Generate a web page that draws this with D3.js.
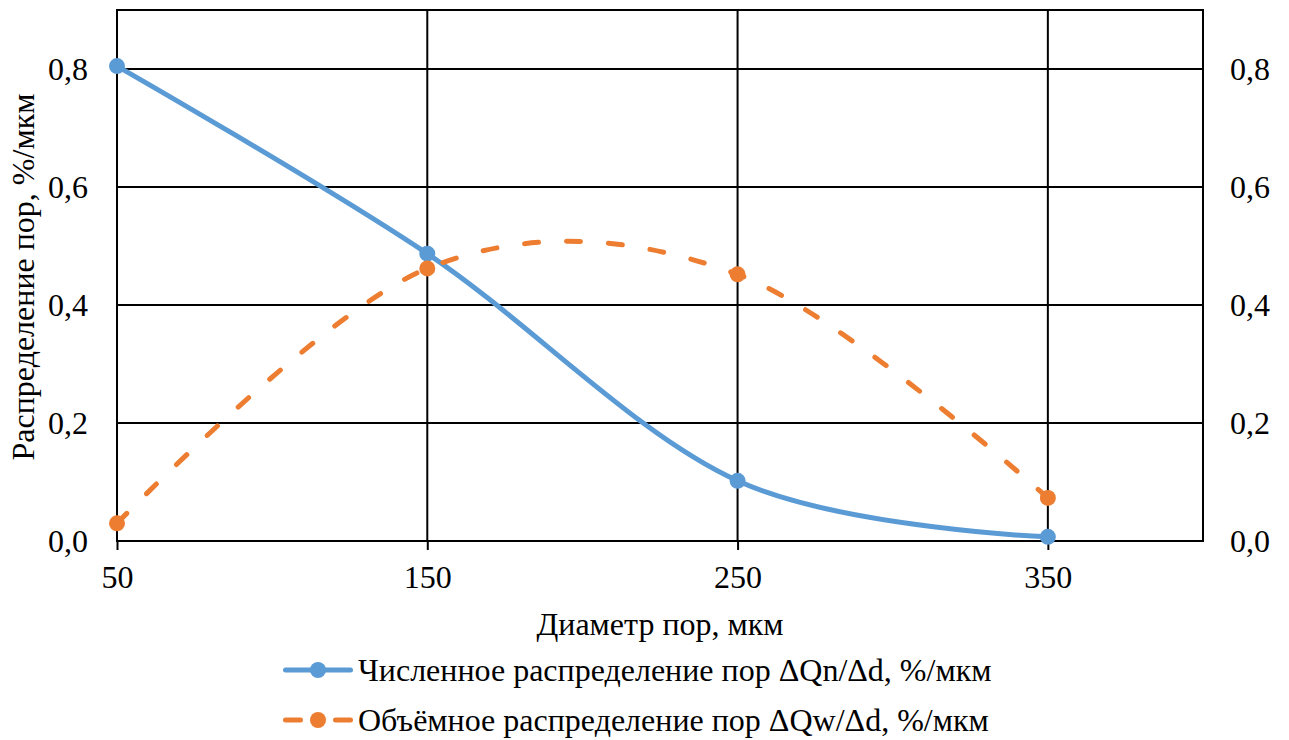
<!DOCTYPE html>
<html><head><meta charset="utf-8">
<script src="https://cdn.jsdelivr.net/npm/d3@7"></script>
</head><body style="margin:0;background:#fff"><svg id="c" width="1289" height="740" style="display:block"></svg>
<script>
const diameters = [50, 150, 250, 350];
const numberDist = [0.805, 0.487, 0.102, 0.007];
const volumeDist = [0.030, 0.462, 0.452, 0.073];
const xTicks = [50, 150, 250, 350];
const yTicks = [0, 0.2, 0.4, 0.6, 0.8];
const seriesNames = ["Численное распределение пор ΔQn/Δd, %/мкм", "Объёмное распределение пор ΔQw/Δd, %/мкм"];
const xTitle = "Диаметр пор, мкм";
const yTitle = "Распределение пор, %/мкм";

const FS = 32;
const svg = d3.select("#c");
const L = 117, R = 1203, T = 10, B = 541;
const x = d3.scaleLinear().domain([50, 400]).range([L, R]);
const y = d3.scaleLinear().domain([0, 0.9]).range([B, T]);
const fmt = v => d3.format(".1f")(v).replace(".", ",");

svg.append("g").selectAll("line").data(yTicks.filter(d => d > 0)).join("line")
  .attr("x1", L).attr("x2", R).attr("y1", d => y(d)).attr("y2", d => y(d))
  .attr("stroke", "#000").attr("stroke-width", 2);
svg.append("g").selectAll("line").data(xTicks.filter(d => d > 50)).join("line")
  .attr("x1", d => x(d)).attr("x2", d => x(d)).attr("y1", T).attr("y2", B)
  .attr("stroke", "#000").attr("stroke-width", 2);
svg.append("rect").attr("x", L).attr("y", T).attr("width", R - L).attr("height", B - T)
  .attr("fill", "none").attr("stroke", "#000").attr("stroke-width", 2);

function styleText(sel) { sel.style("font-family", "'Liberation Serif'").attr("font-size", FS).attr("fill", "#000"); return sel; }

const xAxis = svg.append("g").attr("transform", `translate(0,${B})`)
  .call(d3.axisBottom(x).tickValues(xTicks).tickSize(9).tickPadding(16).tickFormat(d3.format("d")));
xAxis.select(".domain").remove();
xAxis.selectAll("line").attr("stroke", "#000").attr("stroke-width", 2);
xAxis.attr("font-family", null).attr("font-size", null);
styleText(xAxis.selectAll("text")).attr("y", 47).attr("dy", null);

const yl = svg.append("g").attr("transform", `translate(${L},0)`)
  .call(d3.axisLeft(y).tickValues(yTicks).tickSize(0).tickPadding(29).tickFormat(fmt));
yl.select(".domain").remove();
yl.attr("font-family", null).attr("font-size", null);
styleText(yl.selectAll("text"));
const yr = svg.append("g").attr("transform", `translate(${R},0)`)
  .call(d3.axisRight(y).tickValues(yTicks).tickSize(0).tickPadding(27).tickFormat(fmt));
yr.select(".domain").remove();
yr.attr("font-family", null).attr("font-size", null);
styleText(yr.selectAll("text"));

styleText(svg.append("text").attr("x", 660).attr("y", 635).attr("text-anchor", "middle").text(xTitle));
styleText(svg.append("text").attr("transform", `translate(34,277) rotate(-90)`)
  .attr("text-anchor", "middle").text(yTitle));

const line = d3.line().x(d => x(d[0])).y(d => y(d[1])).curve(d3.curveCatmullRom.alpha(0));
const colors = ["#5B9BD5", "#ED7D31"];
const data = [numberDist, volumeDist].map(s => diameters.map((d, i) => [d, s[i]]));

data.forEach((pts, i) => {
  svg.append("path").datum(pts).attr("d", line).attr("fill", "none")
    .attr("stroke", colors[i]).attr("stroke-width", 5)
    .attr("stroke-linecap", "round").attr("stroke-linejoin", "round")
    .attr("stroke-dasharray", i === 1 ? "14,28" : null);
  svg.append("g").selectAll("circle").data(pts).join("circle")
    .attr("cx", d => x(d[0])).attr("cy", d => y(d[1])).attr("r", 8).attr("fill", colors[i]);
});

const lg = svg.append("g");
[670, 720].forEach((ly, i) => {
  lg.append("line").attr("x1", 285.5).attr("x2", 350.5).attr("y1", ly).attr("y2", ly)
    .attr("stroke", colors[i]).attr("stroke-width", 5).attr("stroke-linecap", "round")
    .attr("stroke-dasharray", i === 1 ? "15,35" : null);
  lg.append("circle").attr("cx", 318).attr("cy", ly).attr("r", 8).attr("fill", colors[i]);
  styleText(lg.append("text").attr("x", 358).attr("y", ly).attr("dy", "0.33em").text(seriesNames[i]));
});
</script></body></html>
